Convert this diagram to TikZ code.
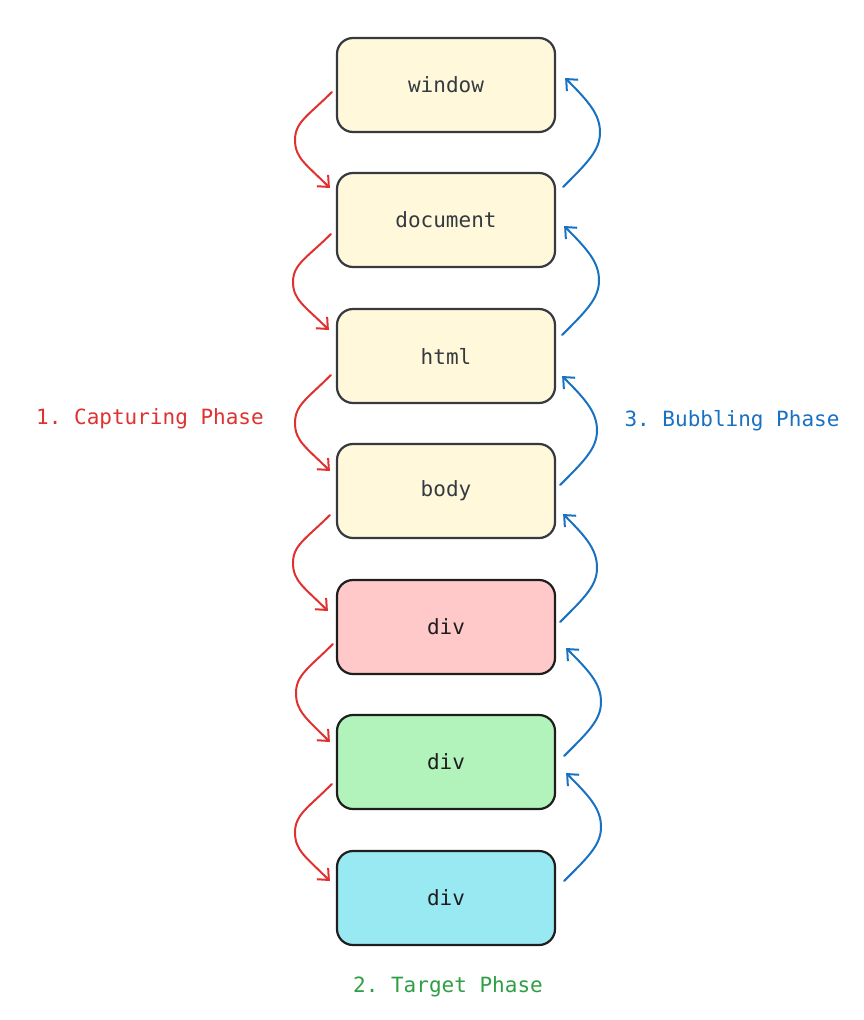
\documentclass[tikz,border=0pt]{standalone}
\usepackage{fontspec}
\setmonofont{DejaVu Sans Mono}
\usetikzlibrary{arrows.meta,calc}
\definecolor{cream}{HTML}{FFF8DB}
\definecolor{pinkf}{HTML}{FFC9C9}
\definecolor{greenf}{HTML}{B2F2BB}
\definecolor{cyanf}{HTML}{99E9F2}
\definecolor{darkgray}{HTML}{343A40}
\definecolor{nearblack}{HTML}{1E1E1E}
\definecolor{redc}{HTML}{E03131}
\definecolor{bluec}{HTML}{1971C2}
\definecolor{greenc}{HTML}{2F9E44}
\tikzset{
  elem/.style={draw=darkgray, line width=2.2pt, rounded corners=16pt,
    minimum width=218pt, minimum height=94pt, inner sep=0pt,
    font=\ttfamily\fontsize{21}{24}\selectfont, text=darkgray, fill=cream},
  elemdark/.style={elem, draw=nearblack, text=nearblack},
  phase/.style={font=\ttfamily\fontsize{21}{24}\selectfont, inner sep=0pt},
  caparrow/.style={draw=redc, line width=2pt, line cap=round,
    -{Straight Barb[length=9pt,width=16pt,line width=2pt]}},
  bubarrow/.style={draw=bluec, line width=2pt, line cap=round,
    -{Straight Barb[length=9pt,width=16pt,line width=2pt]}}
}
\begin{document}
\begin{tikzpicture}[x=1pt,y=-1pt]
\useasboundingbox (0,0) rectangle (864,1020);
\node[elem] (window) at (446,85) {window};
\node[elem] (document) at (446,220) {document};
\node[elem] (html) at (446,356) {html};
\node[elem] (body) at (446,491) {body};
\node[elemdark, fill=pinkf] (div1) at (446,627) {div};
\node[elemdark, fill=greenf] (div2) at (446,762) {div};
\node[elemdark, fill=cyanf] (div3) at (446,898) {div};

\node[phase, text=redc] (cap) at (150,419) {1. Capturing Phase};
\node[phase, text=bluec] (bub) at (732,421) {3. Bubbling Phase};
\node[phase, text=greenc] (tgt) at (448,987) {2. Target Phase};

% capturing arrows
\foreach \a/\b/\sx/\sy/\ex/\ey/\mx in {
  window/document/-4/7/-6/-32/295,
  document/html/-5/14/-7/-26/293,
  html/body/-5/19/-6/-20/295,
  body/div1/-6/24/-8/-16/293,
  div1/div2/-3/17/-6/-20/296,
  div2/div3/-4/22/-6/-17/295}{
  \coordinate (s) at ([shift={(\sx,\sy)}]\a.west);
  \coordinate (e) at ([shift={(\ex,\ey)}]\b.west);
  \coordinate (m0) at ($(s)!0.5!(e)$);
  \coordinate (m) at (m0 -| \mx,0);
  \path[caparrow] (s) .. controls +(-24,24) and +(0,-18) .. (m)
     .. controls +(0,18) and +(-24,-24) .. (e);
}
% bubbling arrows
\foreach \a/\b/\sx/\sy/\ex/\ey/\mx in {
  document/window/7/-33/9/-7/600,
  html/document/6/-21/8/6/599,
  body/html/4/-6/6/20/597,
  div1/body/4/-5/7/23/597,
  div2/div1/8/-6/10/21/601,
  div3/div2/8/-17/10/11/601}{
  \coordinate (s) at ([shift={(\sx,\sy)}]\a.east);
  \coordinate (e) at ([shift={(\ex,\ey)}]\b.east);
  \coordinate (m0) at ($(s)!0.5!(e)$);
  \coordinate (m) at (m0 -| \mx,0);
  \path[bubarrow] (s) .. controls +(24,-24) and +(0,18) .. (m)
     .. controls +(0,-18) and +(24,24) .. (e);
}
\end{tikzpicture}
\end{document}
